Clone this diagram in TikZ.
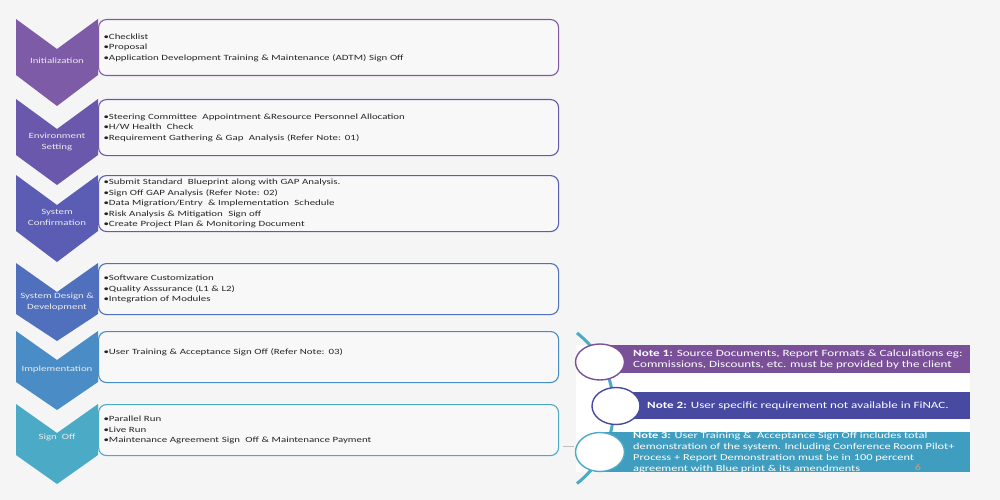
\documentclass[tikz,border=0pt]{standalone}
\usepackage{fontspec}
\setmainfont{Carlito}[FakeStretch=1.36]
\usetikzlibrary{positioning, shapes.geometric}
\definecolor{pageCol}{HTML}{F5F5F5}
\definecolor{boxFill}{HTML}{F8F8F8}
\definecolor{initCol}{HTML}{7E5BA6}
\definecolor{envCol}{HTML}{6A58AD}
\definecolor{confCol}{HTML}{5A5DB3}
\definecolor{designCol}{HTML}{5070BE}
\definecolor{implCol}{HTML}{4A8CC5}
\definecolor{signCol}{HTML}{4BABC6}
\definecolor{noteOneCol}{HTML}{7A5199}
\definecolor{noteTwoCol}{HTML}{484AA1}
\definecolor{noteThreeCol}{HTML}{3F9EBF}
\definecolor{pageNumCol}{HTML}{C9A07E}
\tikzset{
    stepbox/.style={draw, rounded corners=8pt, line width=1.1pt, fill=boxFill,
        anchor=north west, text width=450pt, inner xsep=5pt, inner ysep=0pt,
        align=left, text=black!85, font=\fontsize{8}{10.6}\selectfont},
    chevlabel/.style={text=white!92!black, align=center, inner sep=0pt,
        font=\fontsize{8}{11}\selectfont},
    notebar/.style={rectangle, anchor=north west, inner sep=0pt},
    notetext/.style={anchor=west, align=left, inner sep=0pt, text=white,
        font=\fontsize{9.6}{10.9}\selectfont},
    notecircle/.style={ellipse, draw, fill=white, line width=1.4pt, inner sep=0pt},
    noteline/.style={line width=3pt, draw=signCol},
}

\begin{document}
\begin{tikzpicture}[x=1pt, y=-1pt]
        \fill[pageCol] (0,0) rectangle (1000,500);
        \useasboundingbox (0,0) rectangle (1000,500);

        \fill[initCol] (16,19) -- (57,49) -- (98,19) -- (98,75) -- (57,106) -- (16,75) -- cycle;
        \fill[envCol] (16,99) -- (57,129) -- (98,99) -- (98,155) -- (57,185) -- (16,155) -- cycle;
        \fill[confCol] (16,175) -- (57,205) -- (98,175) -- (98,231) -- (57,262) -- (16,231) -- cycle;
        \fill[designCol] (16,263) -- (57,292) -- (98,263) -- (98,314) -- (57,341) -- (16,314) -- cycle;
        \fill[implCol] (16,331) -- (57,360) -- (98,331) -- (98,382) -- (57,410) -- (16,382) -- cycle;
        \fill[signCol] (16,404) -- (57,433) -- (98,404) -- (98,455) -- (57,484) -- (16,455) -- cycle;

        \node[chevlabel] (initLabel) at (57,61) {Initialization};
        \node[chevlabel] (envLabel) at (57,141.5) {Environment\\Setting};
        \node[chevlabel] (confLabel) at (57,217.5) {System\\Confirmation};
        \node[chevlabel] (designLabel) at (57,302) {System Design \&\\Development};
        \node[chevlabel] (implLabel) at (57,369) {Implementation};
        \node[chevlabel] (signLabel) at (57,437) {Sign\ \ Off};

        \node[stepbox, draw=initCol, minimum height=56pt] (init) at (98,19)
            {•Checklist\\•Proposal\\•Application Development Training \& Maintenance (ADTM) Sign Off};
        \node[stepbox, draw=envCol, minimum height=56pt] (env) at (98,99)
            {•Steering Committee\ \ Appointment \&Resource Personnel Allocation\\•H/W Health\ \ Check\\•Requirement Gathering \& Gap\ \ Analysis (Refer Note: 01)};
        \node[stepbox, draw=confCol, minimum height=56pt] (conf) at (98,175)
            {•Submit Standard\ \ Blueprint along with GAP Analysis.\\•Sign Off GAP Analysis (Refer Note: 02)\\•Data Migration/Entry\ \ \& Implementation\ \ Schedule\\•Risk Analysis \& Mitigation\ \ Sign off\\•Create Project Plan \& Monitoring Document};
        \node[stepbox, draw=designCol, minimum height=51pt] (design) at (98,263)
            {•Software Customization\\•Quality Asssurance (L1 \& L2)\\•Integration of Modules};
        \node[stepbox, draw=implCol, minimum height=51pt] (impl) at (98,331)
            {•User Training \& Acceptance Sign Off (Refer Note: 03)\\\mbox{}};
        \node[stepbox, draw=signCol, minimum height=51pt] (sign) at (98,404)
            {•Parallel Run\\•Live Run\\•Maintenance Agreement Sign\ \ Off \& Maintenance Payment};

        \fill[white] (576,345) rectangle (970,472);
        \coordinate (arcTop) at (577,333);
        \draw[noteline] (arcTop) arc[start angle=52, end angle=-52, radius=95.5pt];
        \coordinate (dashA) at (563,446);
        \coordinate (dashB) at (574,446);
        \draw[black!25, line width=1pt] (dashA) -- (dashB);

        \node[notebar, fill=noteOneCol, minimum width=370pt, minimum height=28pt] (note1) at (600,345) {};
        \node[notebar, fill=noteTwoCol, minimum width=354pt, minimum height=27pt] (note2) at (616,392) {};
        \node[notebar, fill=noteThreeCol, minimum width=370pt, minimum height=40pt] (note3) at (600,432) {};

        \node[notecircle, draw=noteOneCol, minimum width=49pt, minimum height=36pt] (circ1) at (600,362) {};
        \node[notecircle, draw=noteTwoCol, minimum width=48pt, minimum height=37pt] (circ2) at (616,406) {};
        \node[notecircle, draw=signCol, minimum width=49pt, minimum height=39pt] (circ3) at (600,452) {};

        \node[notetext] (note1text) at ([xshift=33pt]note1.west)
            {\textbf{Note 1:} Source Documents, Report Formats \& Calculations eg:\\Commissions, Discounts, etc. must be provided by the client};
        \node[notetext] (note2text) at ([xshift=31pt]note2.west)
            {\textbf{Note 2:} User specific requirement not available in FiNAC.};
        \node[notetext, font=\fontsize{9.1}{11}\selectfont] (note3text) at ([xshift=33pt, yshift=-0.5pt]note3.west)
            {\textbf{Note 3:} User Training \&\ \ Acceptance Sign Off includes total\\demonstration of the system. Including Conference Room Pilot+\\Process + Report Demonstration must be in 100 percent\\agreement with Blue print \& its amendments};
        \node[text=pageNumCol, font=\fontsize{9}{9}\selectfont, inner sep=0pt] (pageNum) at (918,467) {6};
\end{tikzpicture}
\end{document}
